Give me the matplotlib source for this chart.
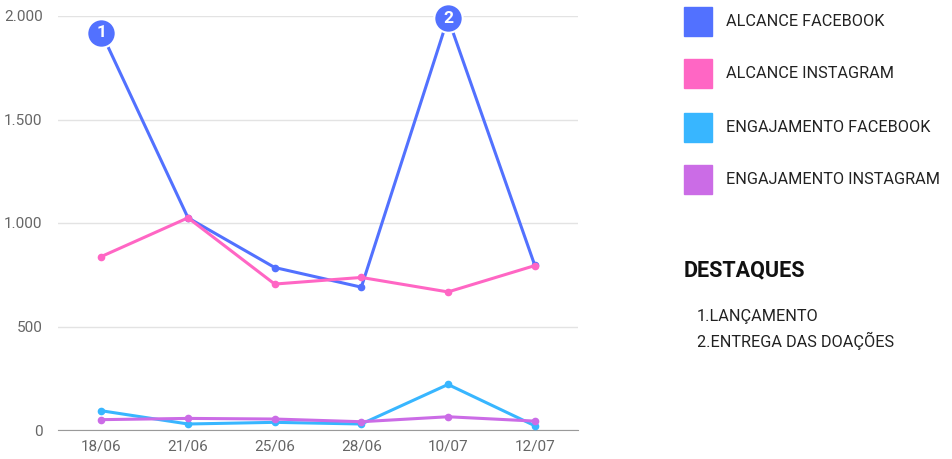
import numpy as np
import matplotlib.pyplot as plt

plt.rcParams['font.family'] = ['Roboto', 'DejaVu Sans']

# data
datas = ['18/06', '21/06', '25/06', '28/06', '10/07', '12/07']
alcance_fb = [1920, 1025, 785, 690, 1990, 797]
alcance_ig = [838, 1025, 705, 737, 667, 794]
engaj_fb = [93, 29, 37, 29, 220, 21]
engaj_ig = [50, 56, 53, 40, 64, 43]
series_names = ['ALCANCE FACEBOOK', 'ALCANCE INSTAGRAM',
                'ENGAJAMENTO FACEBOOK', 'ENGAJAMENTO INSTAGRAM']
cores = ['#5271FF', '#FF66C4', '#38B6FF', '#CB6CE6']
destaques_idx = [0, 4]
destaques = ['LANÇAMENTO', 'ENTREGA DAS DOAÇÕES']
yticks = [0, 500, 1000, 1500, 2000]

fig = plt.figure(figsize=(9.52, 4.59), dpi=100)
ax = fig.add_axes([58/952, 29/459, 520/952, 414/459])

x = np.arange(len(datas))
for vals, cor in zip([alcance_fb, alcance_ig, engaj_fb, engaj_ig], cores):
    ax.plot(x, vals, color=cor, lw=2.2, marker='o', ms=4.5, zorder=3, clip_on=False)

# numbered badges on alcance facebook
for n, i in enumerate(destaques_idx, start=1):
    ax.scatter(x[i], alcance_fb[i], s=420, color=cores[0], edgecolor='white',
               linewidth=1.5, zorder=5, clip_on=False)
    ax.text(x[i], alcance_fb[i], str(n), color='white', fontsize=12.5, fontweight='bold',
            ha='center', va='center', zorder=6)

ax.set_xlim(-0.5, 5.5)
ax.set_ylim(0, 2000)
ax.set_yticks(yticks)
ax.set_yticklabels([f'{v:,}'.replace(',', '.') for v in yticks])
ax.set_xticks(x)
ax.set_xticklabels(datas)
ax.grid(axis='y', color='#e3e3e3', lw=1)
ax.set_axisbelow(True)
for s in ['top', 'right', 'left']:
    ax.spines[s].set_visible(False)
ax.spines['bottom'].set_color('#9a9a9a')
ax.tick_params(axis='both', length=0, labelsize=11, colors='#666666')
ax.tick_params(axis='y', pad=11)
ax.tick_params(axis='x', pad=7)

# legend on the right
leg_y = [22, 74, 128, 180]
for yy, nome, cor in zip(leg_y, series_names, cores):
    fig.patches.append(plt.Rectangle((684/952, 1 - (yy + 14)/459), 28/952, 29/459,
                                     transform=fig.transFigure, color=cor))
    fig.text(726/952, 1 - yy/459, nome, fontsize=11.7, va='center', ha='left', color='#222222')

fig.text(684/952, 1 - 270/459, 'DESTAQUES', fontsize=15.5, fontweight='bold',
         va='center', ha='left', color='#111111')
for k, t in enumerate(destaques):
    fig.text(697/952, 1 - (316 + 25*k)/459, f'{k+1}.{t}', fontsize=11.7,
             va='center', ha='left', color='#222222')

fig.savefig('out.png', dpi=100, facecolor='white')
